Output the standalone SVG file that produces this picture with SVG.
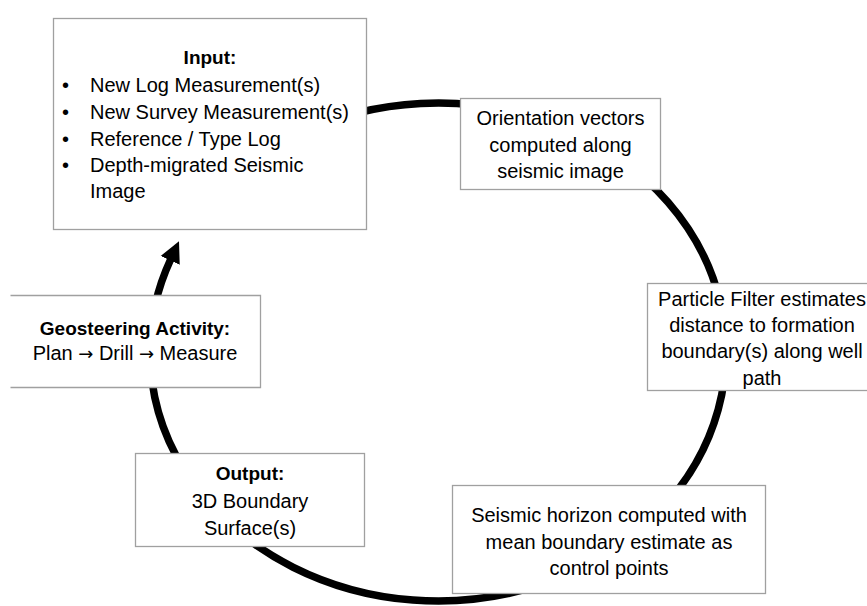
<svg xmlns="http://www.w3.org/2000/svg" width="867" height="606" viewBox="0 0 867 606">
  <style>
    .box { fill: #ffffff; stroke: #a0a0a0; stroke-width: 1.3; }
    .t { font-family: "Liberation Sans", Arial, sans-serif; font-size: 20px; fill: #000000; }
    .c { text-anchor: middle; }
    .b { font-weight: bold; font-size: 19px; }
    .ar { font-family: "DejaVu Sans", sans-serif; font-size: 18px; }
    .flow { fill: none; stroke: #000000; stroke-width: 7.5; }
  </style>
  <defs>
    <marker id="arrow" markerUnits="userSpaceOnUse" viewBox="0 -11 21 22" refX="1" refY="0" markerWidth="21" markerHeight="22" orient="auto">
      <path d="M0,-10.5 L21,0 L0,10.5 Z" fill="#000000"/>
    </marker>
  </defs>
  <rect width="867" height="606" fill="#ffffff"/>
  <g id="connectors">
    <path class="flow" d="M300,133.45 A288,249 0 1,1 170.61,259.5" marker-end="url(#arrow)"/>
  </g>
  <g id="input">
    <rect class="box" x="53.5" y="18.5" width="313" height="211"/>
    <text class="t c b" x="210" y="64">Input:</text>
    <text class="t" x="62" y="92">•</text>
    <text class="t" x="62" y="119">•</text>
    <text class="t" x="62" y="146">•</text>
    <text class="t" x="62" y="172">•</text>
    <text class="t" x="90" y="92">New Log Measurement(s)</text>
    <text class="t" x="90" y="119">New Survey Measurement(s)</text>
    <text class="t" x="90" y="146">Reference / Type Log</text>
    <text class="t" x="90" y="172">Depth-migrated Seismic</text>
    <text class="t" x="90" y="198">Image</text>
  </g>
  <g id="orientation">
    <rect class="box" x="460.5" y="98.5" width="200" height="91"/>
    <text class="t c" x="560.5" y="125">Orientation vectors</text>
    <text class="t c" x="560.5" y="152">computed along</text>
    <text class="t c" x="560.5" y="178">seismic image</text>
  </g>
  <g id="particle">
    <rect class="box" x="647.5" y="283.5" width="230" height="107"/>
    <text class="t c" x="762" y="306">Particle Filter estimates</text>
    <text class="t c" x="762" y="332">distance to formation</text>
    <text class="t c" x="762" y="358">boundary(s) along well</text>
    <text class="t c" x="762" y="385">path</text>
  </g>
  <g id="seismic-horizon">
    <rect class="box" x="452.5" y="485.5" width="313" height="108"/>
    <text class="t c" x="609" y="522">Seismic horizon computed with</text>
    <text class="t c" x="609" y="549">mean boundary estimate as</text>
    <text class="t c" x="609" y="575">control points</text>
  </g>
  <g id="output">
    <rect class="box" x="135.5" y="453.5" width="229" height="93"/>
    <text class="t c b" x="250" y="480">Output:</text>
    <text class="t c" x="250" y="508">3D Boundary</text>
    <text class="t c" x="250" y="535">Surface(s)</text>
  </g>
  <g id="geosteering">
    <path class="box" d="M10.5,295.5 H260.5 V387.5 H10.5"/>
    <text class="t c b" x="135" y="335">Geosteering Activity:</text>
    <text class="t c" x="135" y="360">Plan <tspan class="ar">→</tspan> Drill <tspan class="ar">→</tspan> Measure</text>
  </g>
</svg>
